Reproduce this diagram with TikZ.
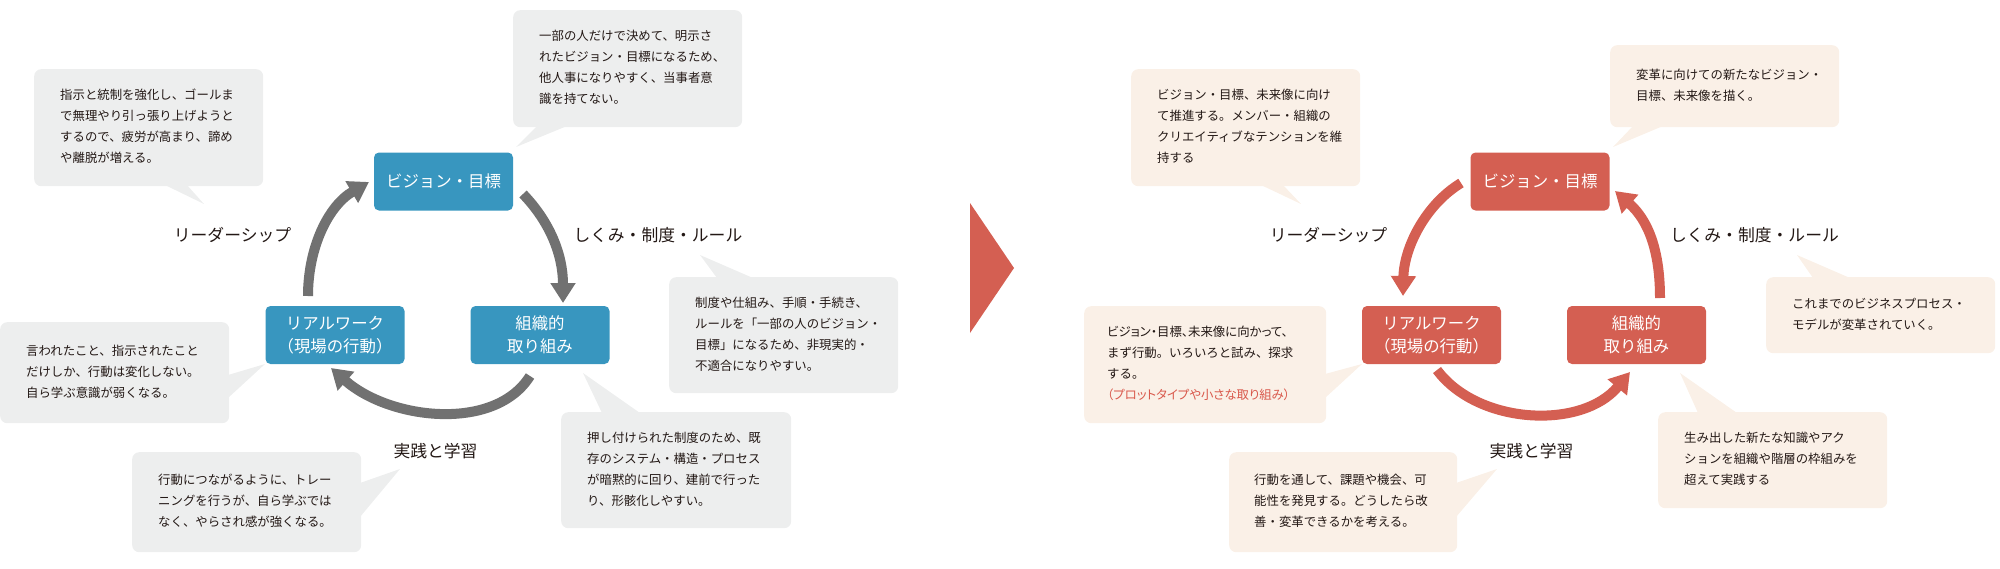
\documentclass[tikz,border=0pt]{standalone}
\usepackage{fontspec}
\setmainfont{Noto Sans CJK JP}
\newfontfamily\jpp{Noto Sans CJK JP}[RawFeature=+palt]
\usetikzlibrary{arrows.meta}
\definecolor{blueB}{HTML}{3896BF}
\definecolor{redB}{HTML}{D45F52}
\definecolor{arrGray}{HTML}{717171}
\definecolor{bubGray}{HTML}{EDEEEE}
\definecolor{bubBeige}{HTML}{FAF0E7}
\definecolor{txt}{HTML}{231815}
\definecolor{redtxt}{HTML}{D9584B}
\begin{document}
\begin{tikzpicture}[x=1pt,y=-1pt,
  boxb/.style={rectangle, rounded corners=5pt, fill=blueB, text=white, minimum width=139pt, minimum height=58pt, inner sep=0pt, align=center, font=\fontsize{16.4}{23}\selectfont},
  boxr/.style={boxb, fill=redB},
  bubg/.style={rectangle, rounded corners=7pt, fill=bubGray, inner sep=0pt, anchor=north west},
  bubb/.style={bubg, fill=bubBeige},
  btxt/.style={anchor=west, align=left, inner sep=0pt, text=txt, font=\fontsize{12.4}{21}\selectfont},
  lbl/.style={inner sep=0pt, text=txt, font=\fontsize{16.8}{20}\selectfont},
  arrg/.style={draw=arrGray, line width=10pt, -{Triangle[length=20pt,width=24pt]}},
  arrr/.style={arrg, draw=redB}
]
\useasboundingbox (0,0) rectangle (2000,568);

% ---------------- left diagram ----------------
% bubbles
\node[bubg, minimum width=229pt, minimum height=117pt] (g1) at (34,69) {};
\fill[bubGray] (165,185) -- (204,204) -- (187,185) -- cycle;
\node[bubg, minimum width=229pt, minimum height=117pt] (g2) at (513,10) {};
\fill[bubGray] (537,126) -- (516,147) -- (567,126) -- cycle;
\node[bubg, minimum width=229pt, minimum height=116pt] (g3) at (669,277) {};
\fill[bubGray] (717,278) -- (700,255) -- (753,278) -- cycle;
\node[bubg, minimum width=230pt, minimum height=116pt] (g4) at (561,412) {};
\fill[bubGray] (602,413) -- (583,373) -- (640,413) -- cycle;
\node[bubg, minimum width=229pt, minimum height=101pt] (g5) at (0,322) {};
\fill[bubGray] (228,375) -- (265,364) -- (228,398) -- cycle;
\node[bubg, minimum width=229pt, minimum height=100pt] (g6) at (132,452) {};
\fill[bubGray] (360,483) -- (400,469) -- (360,517) -- cycle;

\node[btxt] (g1t) at ([xshift=26pt,yshift=1pt]g1.west) {指示と統制を強化し、ゴールま\\で無理やり引っ張り上げようと\\するので、疲労が高まり、諦め\\や離脱が増える。};
\node[btxt] (g2t) at ([xshift=26pt,yshift=1pt]g2.west) {一部の人だけで決めて、明示さ\\れたビジョン・目標になるため、\\他人事になりやすく、当事者意\\識を持てない。};
\node[btxt] (g3t) at ([xshift=26pt,yshift=1pt]g3.west) {制度や仕組み、手順・手続き、\\ルールを「一部の人のビジョン・\\目標」になるため、非現実的・\\不適合になりやすい。};
\node[btxt] (g4t) at ([xshift=26pt,yshift=1pt]g4.west) {押し付けられた制度のため、既\\存のシステム・構造・プロセス\\が暗黙的に回り、建前で行った\\り、形骸化しやすい。};
\node[btxt] (g5t) at ([xshift=26pt,yshift=1pt]g5.west) {言われたこと、指示されたこと\\だけしか、行動は変化しない。\\自ら学ぶ意識が弱くなる。};
\node[btxt] (g6t) at ([xshift=26pt,yshift=1pt]g6.west) {行動につながるように、トレー\\ニングを行うが、自ら学ぶでは\\なく、やらされ感が強くなる。};

% boxes
\node[boxb] (v1) at (443.5,181.5) {ビジョン・目標};
\node[boxb] (w1) at (335,335) {リアルワーク\\（現場の行動）};
\node[boxb] (o1) at (540,335) {組織的\\取り組み};

% labels
\node[lbl] (l1a) at (232.5,235) {リーダーシップ};
\node[lbl] (l1b) at (658,235) {しくみ・制度・ルール};
\node[lbl] (l1c) at (435.5,451) {実践と学習};

% arrows
\coordinate (a1s) at (523,194); \coordinate (a1e) at (563,303);
\coordinate (a2s) at (530,376); \coordinate (a2e) at (331,368);
\coordinate (a3s) at (308,296); \coordinate (a3e) at (369,182);
\draw[arrg] (a1s) .. controls (550,222) and (563,255) .. (a1e);
\draw[arrg] (a2s) .. controls (495,432) and (390,420) .. (a2e);
\draw[arrg] (a3s) .. controls (308,248) and (328,206) .. (a3e);

% ---------------- middle triangle ----------------
\fill[redB] (970,203) -- (1014,268) -- (970,333) -- cycle;

% ---------------- right diagram ----------------
\node[bubb, minimum width=229pt, minimum height=117pt] (r1) at (1131,69) {};
\fill[bubBeige] (1261,185) -- (1301,204) -- (1283,185) -- cycle;
\node[bubb, minimum width=229pt, minimum height=82pt] (r2) at (1610,45) {};
\fill[bubBeige] (1633,126) -- (1613,147) -- (1663,126) -- cycle;
\node[bubb, minimum width=229pt, minimum height=76pt] (r3) at (1766,277) {};
\fill[bubBeige] (1813,278) -- (1797,255) -- (1850,278) -- cycle;
\node[bubb, minimum width=229pt, minimum height=96pt] (r4) at (1658,412) {};
\fill[bubBeige] (1698,413) -- (1680,373) -- (1737,413) -- cycle;
\node[bubb, minimum width=242pt, minimum height=117pt] (r5) at (1084,306) {};
\fill[bubBeige] (1325,374) -- (1362,364) -- (1325,398) -- cycle;
\node[bubb, minimum width=228pt, minimum height=100pt] (r6) at (1229,452) {};
\fill[bubBeige] (1456,483) -- (1497,469) -- (1456,517) -- cycle;

\node[btxt] (r1t) at ([xshift=26pt,yshift=1pt]r1.west) {ビジョン・目標、未来像に向け\\て推進する。メンバー・組織の\\クリエイティブなテンションを維\\持する};
\node[btxt] (r2t) at ([xshift=26pt,yshift=1pt]r2.west) {変革に向けての新たなビジョン・\\目標、未来像を描く。};
\node[btxt] (r3t) at ([xshift=26pt,yshift=1pt]r3.west) {これまでのビジネスプロセス・\\モデルが変革されていく。};
\node[btxt] (r4t) at ([xshift=26pt,yshift=1pt]r4.west) {生み出した新たな知識やアク\\ションを組織や階層の枠組みを\\超えて実践する};
\node[btxt] (r5t) at ([xshift=23pt,yshift=1pt]r5.west) {{\jpp ビジョン・目標、未来像に向かって、}\\まず行動。いろいろと試み、探求\\する。\\{\jpp\color{redtxt}（プロットタイプや小さな取り組み）}};
\node[btxt] (r6t) at ([xshift=25pt,yshift=1pt]r6.west) {行動を通して、課題や機会、可\\能性を発見する。どうしたら改\\善・変革できるかを考える。};

\node[boxr] (v2) at (1540,181.5) {ビジョン・目標};
\node[boxr] (w2) at (1431.5,335) {リアルワーク\\（現場の行動）};
\node[boxr] (o2) at (1636.5,335) {組織的\\取り組み};

\node[lbl] (l2a) at (1328.5,235) {リーダーシップ};
\node[lbl] (l2b) at (1754.5,235) {しくみ・制度・ルール};
\node[lbl] (l2c) at (1531.5,451) {実践と学習};

\coordinate (b1s) at (1461,183); \coordinate (b1e) at (1403,296);
\coordinate (b2s) at (1660,298); \coordinate (b2e) at (1615,191);
\coordinate (b3s) at (1437,370); \coordinate (b3e) at (1630,372);
\draw[arrr] (b1s) .. controls (1425,205) and (1404,248) .. (b1e);
\draw[arrr] (b2s) .. controls (1660,250) and (1648,220) .. (b2e);
\draw[arrr] (b3s) .. controls (1478,425) and (1582,430) .. (b3e);
\end{tikzpicture}
\end{document}
